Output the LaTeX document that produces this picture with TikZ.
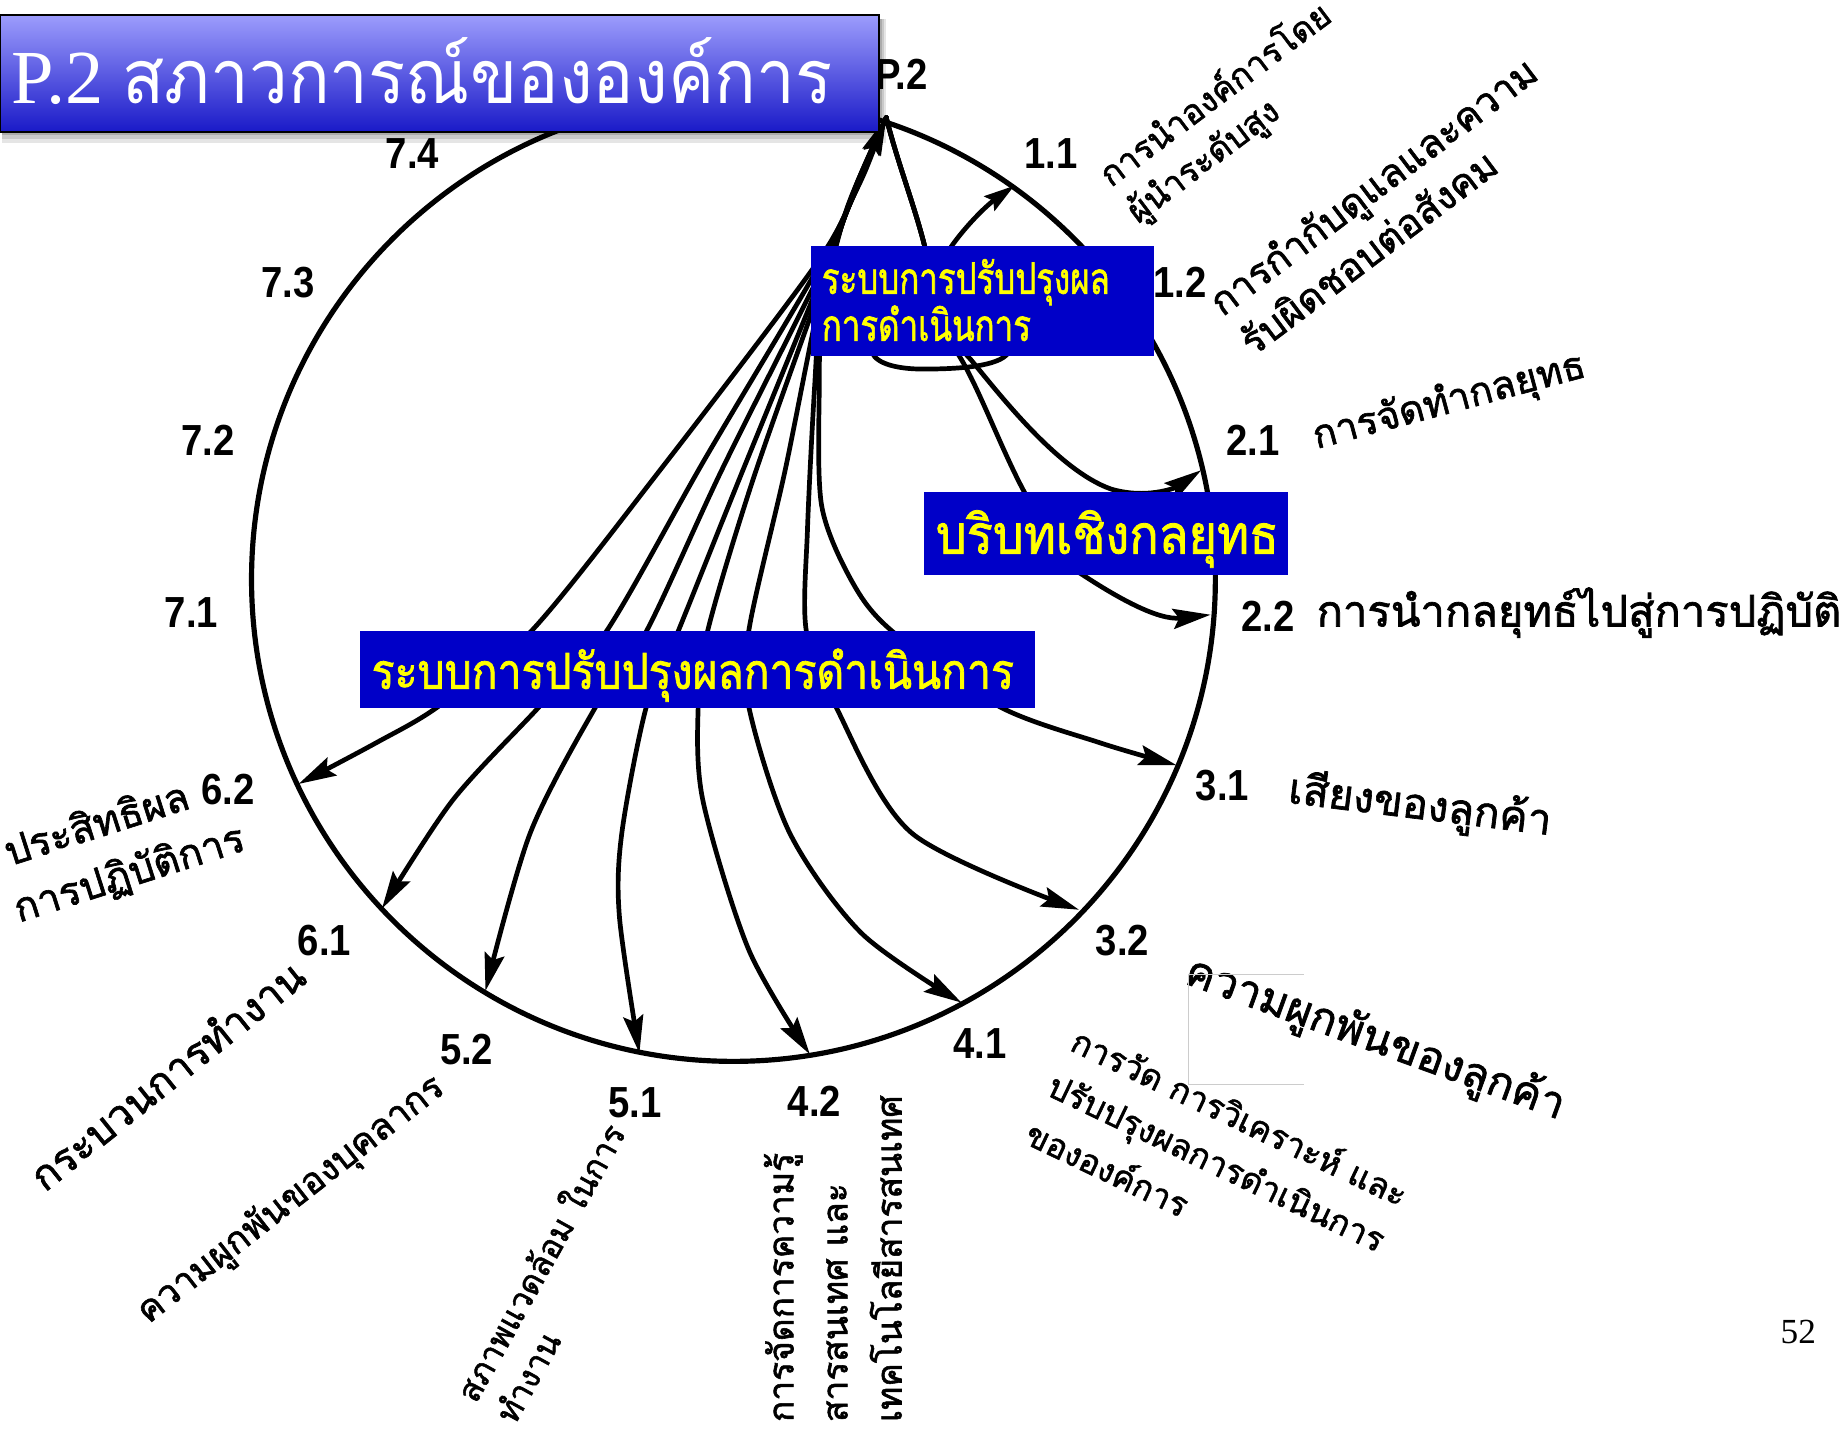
\documentclass[tikz,border=0pt]{standalone}
\usepackage{fontspec}
\setmainfont{Liberation Serif}
\newfontfamily\thaif[Script=Thai]{Loma}
\newfontfamily\thaib[Script=Thai,FakeBold=1.6]{Loma}
\newfontfamily\numf{Liberation Sans}
\usetikzlibrary{arrows.meta}
\definecolor{boxblue}{RGB}{0,0,200}
\definecolor{ttop}{RGB}{156,156,252}
\definecolor{tbot}{RGB}{26,26,200}
\definecolor{ylw}{RGB}{255,255,0}
\newcommand{\thfs}[1]{\thaib\fontsize{#1}{#1}\selectfont}
\newcommand{\thfr}[1]{\thaif\fontsize{#1}{#1}\selectfont}
\begin{document}
\begin{tikzpicture}[x=1pt,y=-1pt,
  curve/.style={line width=4pt, line cap=round},
  arr/.style={-{Stealth[length=32pt,width=17pt,inset=5pt]}},
  barr/.style={{Stealth[length=32pt,width=15pt,inset=5pt]}-{Stealth[length=32pt,width=17pt,inset=5pt]}},
  num/.style={font=\numf\bfseries\fontsize{37}{37}\selectfont, inner sep=0pt, xscale=0.88},
  lab/.style={inner sep=0pt, anchor=base west},
  ybox/.style={fill=boxblue, draw=none, inner sep=0pt, anchor=north west},
  ytext/.style={inner sep=0pt, anchor=base west, text=ylw},
]
\fill[white] (0,0) rectangle (1568,1225);
\useasboundingbox (0,0) rectangle (1568,1225);

% circle
\coordinate (C) at (624,493);
\draw[line width=4.4pt] (C) circle[radius=410];

% named points
\coordinate (P2) at (754,100);
\coordinate (e11) at (863,158);
\coordinate (e21) at (1022,400);
\coordinate (e22) at (1030,523);
\coordinate (e31) at (1001,651);
\coordinate (e32) at (918,774);
\coordinate (e41) at (818,853);
\coordinate (e42) at (689,897);
\coordinate (e51) at (544,896);
\coordinate (e52) at (413,843);
\coordinate (e61) at (325,773);
\coordinate (e62) at (254,667);

% lower fan of curves
\draw[curve, barr] plot[smooth] coordinates {(P2) (727,165) (692,228) (560,402) (452,537) (373,601) (320,632) (e62)};
\draw[curve, arr] plot[smooth] coordinates {(P2) (726,167) (693,233) (600,390) (516,537) (459,601) (385,681) (e61)};
\draw[curve, barr] plot[smooth] coordinates {(P2) (725,169) (695,238) (614,400) (550,537) (507,601) (451,709) (e52)};
\draw[curve, arr] plot[smooth] coordinates {(P2) (724,171) (696,243) (628,410) (577,537) (550,601) (529,709) (527,780) (e51)};
\draw[curve, arr] plot[smooth] coordinates {(P2) (723,173) (697,248) (640,410) (602,537) (594,601) (598,681) (637,808) (e42)};
\draw[curve, barr] plot[smooth] coordinates {(P2) (722,175) (698,253) (668,400) (637,537) (637,601) (672,709) (733,794) (e41)};
\draw[curve, arr] plot[smooth] coordinates {(P2) (721,177) (699,258) (693,330) (687,450) (686,537) (711,601) (776,709) (e32)};
\draw[curve, arr] plot[smooth] coordinates {(P2) (720,179) (700,263) (697,330) (699,430) (725,495) (759,537) (850,601) (936,632) (e31)};

% upper curves
\draw[curve, -{Stealth[length=26pt,width=15pt,inset=4pt]}] (P2) .. controls (764,140) and (780,180) .. (788,215)
  .. controls (792,260) and (735,280) .. (742,300)
  .. controls (746,310) and (765,314) .. (785,314)
  .. controls (815,314) and (850,312) .. (858,300)
  .. controls (870,280) and (795,250) .. (802,222)
  .. controls (810,205) and (835,178) .. (e11);
\draw[curve, arr] (P2) .. controls (764,140) and (780,180) .. (788,215)
  .. controls (793,250) and (810,290) .. (826,306)
  .. controls (850,335) and (900,400) .. (945,416)
  .. controls (975,425) and (1000,415) .. (e21);
\draw[curve, arr] (P2) .. controls (764,140) and (780,180) .. (788,215)
  .. controls (791,250) and (805,285) .. (818,306)
  .. controls (835,335) and (855,390) .. (875,425)
  .. controls (893,458) and (905,480) .. (921,489)
  .. controls (950,508) and (985,528) .. (e22);

% number labels
\node[num] (nP2) at (767,63) {P.2};
\node[num] (n11) at (894,131) {1.1};
\node[num] (n12) at (1004,240) {1.2};
\node[num] (n21) at (1066,375) {2.1};
\node[num] (n22) at (1079,524) {2.2};
\node[num] (n31) at (1040,668) {3.1};
\node[num] (n32) at (955,800) {3.2};
\node[num] (n41) at (834,888) {4.1};
\node[num] (n42) at (693,937) {4.2};
\node[num] (n51) at (540,938) {5.1};
\node[num] (n52) at (397,893) {5.2};
\node[num] (n61) at (276,800) {6.1};
\node[num] (n62) at (194,672) {6.2};
\node[num] (n71) at (163,521) {7.1};
\node[num] (n72) at (177,375) {7.2};
\node[num] (n73) at (245,240) {7.3};
\node[num] (n74) at (351,131) {7.4};

% black labels
\node[lab, rotate=37, font=\thfs{29}] (t11a) at (945,160) {การนำองค์การโดย};
\node[lab, rotate=37, font=\thfs{29}] (t11b) at (968,191) {ผู้นำระดับสูง};
\node[lab, rotate=37, font=\thfs{33}] (t12a) at (1040,270) {การกำกับดูแลและความ};
\node[lab, rotate=37, font=\thfs{33}] (t12b) at (1066,304) {รับผิดชอบต่อสังคม};
\node[lab, rotate=15, font=\thfs{33}] (t21) at (1120,382) {การจัดทำกลยุทธ};
\node[lab, font=\thfs{37}] (t22) at (1120,533) {การนำกลยุทธ์ไปสู่การปฏิบัติ};
\node[lab, rotate=-7, font=\thfs{36}] (t31) at (1095,683) {เสียงของลูกค้า};
\node[lab, rotate=-20, font=\thfs{37}] (t32) at (1006,836) {ความผูกพันของลูกค้า};
\node[lab, rotate=-25.5, font=\thfs{28.5}] (t41a) at (909,893) {การวัด การวิเคราะห์ และ};
\node[lab, rotate=-25.5, font=\thfs{28.5}] (t41b) at (889,931) {ปรับปรุงผลการดำเนินการ};
\node[lab, rotate=-25.5, font=\thfs{28.5}] (t41c) at (870,972) {ขององค์การ};
\node[lab, rotate=90, font=\thfs{30}] (t42a) at (675,1210) {การจัดการความรู้};
\node[lab, rotate=90, font=\thfs{30}] (t42b) at (721,1210) {สารสนเทศ และ};
\node[lab, rotate=90, font=\thfs{30}] (t42c) at (767,1210) {เทคโนโลยีสารสนเทศ};
\node[lab, rotate=61, font=\thfs{28}] (t51a) at (405,1195) {สภาพแวดล้อม ในการ};
\node[lab, rotate=61, font=\thfs{28}] (t51b) at (438,1213) {ทำงาน};
\node[lab, rotate=38, font=\thfs{31}] (t52) at (126,1127) {ความผูกพันของบุคลากร};
\node[lab, rotate=38.7, font=\thfs{35}] (t61) at (38,1015) {กระบวนการทำงาน};
\node[lab, rotate=17.7, font=\thfs{34}] (t62a) at (8,737) {ประสิทธิผล};
\node[lab, rotate=17.7, font=\thfs{34}] (t62b) at (16,785) {การปฏิบัติการ};

% faint artefact rectangle
\draw[black!20, line width=0.8pt] (1109,829) -- (1011,829) -- (1011,923) -- (1109,923);

% blue boxes
\node[ybox, minimum width=292pt, minimum height=94pt] (sbox) at (690,209) {};
\node[ytext, font=\thfs{37}] (sbox1) at (699,250) {\scalebox{0.76}[1]{ระบบการปรับปรุงผล}};
\node[ytext, font=\thfs{37}] (sbox2) at (699,290) {\scalebox{0.76}[1]{การดำเนินการ}};
\node[ybox, minimum width=310pt, minimum height=71pt] (cbox) at (786,418) {};
\node[ytext, font=\thfs{46}] (cbox1) at (796,471) {\scalebox{0.9}[1]{บริบทเชิงกลยุทธ}};
\node[ybox, minimum width=574pt, minimum height=65pt] (bbox) at (306,537) {};
\node[ytext, font=\thfs{42}] (bbox1) at (316,586) {\scalebox{0.865}[1]{ระบบการปรับปรุงผลการดำเนินการ}};

% title box
\fill[black, opacity=0.10] (2,16) rectangle (754,122);
\fill[black, opacity=0.12] (2,16) rectangle (752,118);
\fill[black, opacity=0.15] (2,16) rectangle (750,115);
\shade[top color=ttop, bottom color=tbot, draw=black, line width=1.6pt] (0,13) rectangle (748,112);
\node[inner sep=0pt, anchor=base west, text=white] (title) at (10,88)
  {\fontsize{65}{65}\selectfont P.2 {\thfr{64}\scalebox{0.92}[1]{สภาวการณ์ขององค์การ}}};

% page number
\node[inner sep=0pt, font=\fontsize{30}{30}\selectfont] (pg) at (1530,1133) {52};
\end{tikzpicture}
\end{document}
